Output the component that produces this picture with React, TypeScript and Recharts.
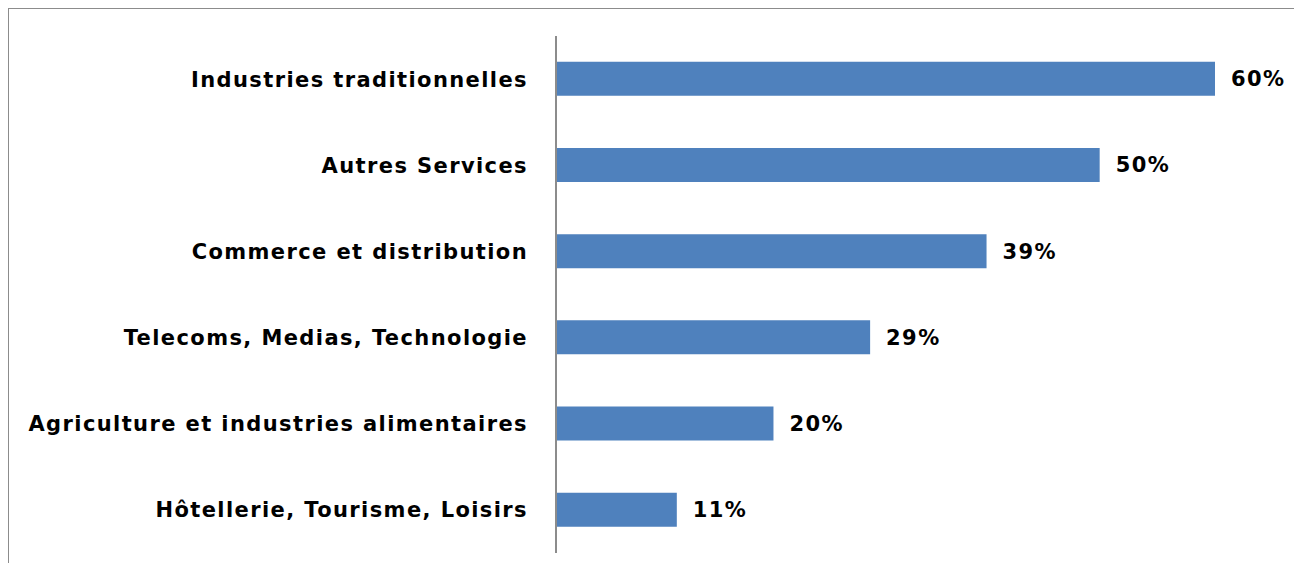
import React from "react";
import { BarChart, Bar, XAxis, YAxis, LabelList } from "recharts";

const categories = [
  "Industries traditionnelles",
  "Autres Services",
  "Commerce et distribution",
  "Telecoms, Medias, Technologie",
  "Agriculture et industries alimentaires",
  "Hôtellerie, Tourisme, Loisirs",
];
const values = [60, 49.5, 39.2, 28.6, 19.8, 11];

const data = categories.map((name, i) => ({ name, value: values[i] }));

const FONT = "'DejaVu Sans', sans-serif";
const textStyle = {
  fill: "#000",
  fontSize: 21,
  fontWeight: 700,
  fontFamily: FONT,
  letterSpacing: 1.4,
};

export default function App() {
  return (
    <div
      style={{
        position: "fixed",
        left: 8,
        top: 8,
        borderTop: "1px solid #8c8c8c",
        borderLeft: "1px solid #8c8c8c",
        width: 1300,
        height: 560,
        background: "#fff",
      }}
    >
      <BarChart
        width={1285}
        height={545}
        data={data}
        layout="vertical"
        margin={{ top: 27, right: 79, bottom: 1, left: 0 }}
        barCategoryGap="30%"
      >
        <XAxis type="number" domain={[0, 60]} hide />
        <YAxis
          type="category"
          dataKey="name"
          width={547}
          axisLine={{ stroke: "#8c8c8c", strokeWidth: 2 }}
          tickLine={false}
          tickSize={0}
          tickMargin={28}
          interval={0}
          tick={textStyle}
        />
        <Bar dataKey="value" fill="#4F81BD" isAnimationActive={false}>
          <LabelList
            dataKey="value"
            position="right"
            offset={16}
            formatter={(v: number) => `${Math.round(v)}%`}
            style={textStyle}
          />
        </Bar>
      </BarChart>
    </div>
  );
}
